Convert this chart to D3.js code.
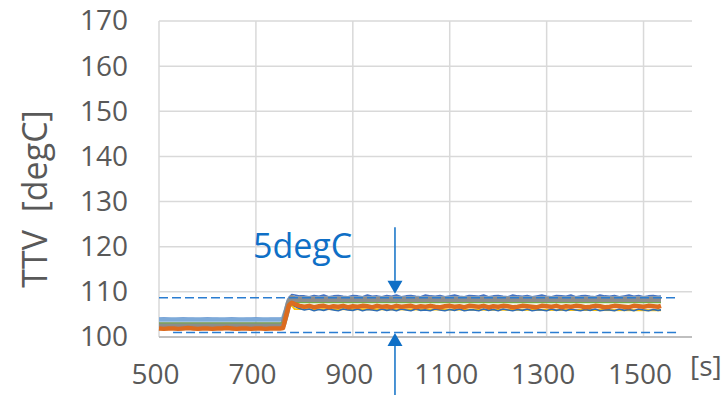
<!DOCTYPE html>
<html>
<head>
<meta charset="utf-8">
<script src="https://cdn.jsdelivr.net/npm/d3@7"></script>
<style>
  body { margin: 0; background: #fff; }
  svg { display: block; font-family: "Open Sans", "Noto Sans", sans-serif; }
</style>
</head>
<body>
<svg id="chart"></svg>
<script>
// time axis shared by the noisy traces [s]
const seconds = [
  500, 510, 520, 530, 540, 550, 560, 570, 580, 590, 600, 610, 620, 630, 640, 650, 660, 670, 680, 690, 700, 710, 720, 730, 740, 750,
  756, 762, 768, 774,
  780, 790, 800, 810, 820, 830, 840, 850, 860, 870, 880, 890, 900, 910, 920, 930, 940, 950, 960, 970,
  980, 990, 1000, 1010, 1020, 1030, 1040, 1050, 1060, 1070, 1080, 1090, 1100, 1110, 1120, 1130, 1140, 1150, 1160, 1170,
  1180, 1190, 1200, 1210, 1220, 1230, 1240, 1250, 1260, 1270, 1280, 1290, 1300, 1310, 1320, 1330, 1340, 1350, 1360, 1370,
  1380, 1390, 1400, 1410, 1420, 1430, 1440, 1450, 1460, 1470, 1480, 1490, 1500, 1510, 1520, 1530, 1536
];

const blueHigh = [
  104.1, 104.2, 104.1, 104.0, 104.1, 104.2, 104.1, 104.1, 104.0, 104.1, 104.2, 104.1, 104.1, 104.0, 104.1, 104.2, 104.1, 104.0, 104.1, 104.1, 104.2, 104.1, 104.0, 104.1, 104.1, 104.1,
  104.2, 106.5, 108.8, 109.4,
  109.3, 109.1,
  109.1, 108.9, 109.2, 109.0, 109.3, 108.9, 109.1, 109.2, 109.0, 108.9,
  109.2, 109.1, 108.9, 109.3, 109.0, 109.1, 108.9, 109.2, 109.0, 109.3,
  108.9, 109.1, 109.2, 109.0, 108.9, 109.3, 109.1, 109.0, 109.2, 108.9,
  109.1, 109.3, 109.0, 108.9, 109.2, 109.1, 109.0, 109.3, 108.9, 109.1,
  109.2, 109.0, 108.9, 109.3, 109.1, 109.0, 109.2, 108.9, 109.1, 109.3,
  109.0, 108.9, 109.2, 109.1, 109.0, 109.3, 108.9, 109.1, 109.2, 109.0,
  108.9, 109.3, 109.1, 109.0, 109.2, 108.9, 109.1, 109.3, 109.0, 109.2,
  108.9, 109.1, 109.2, 109.0, 109.1
];

const blueLow = [
  102.3, 102.4, 102.3, 102.3, 102.4, 102.3, 102.2, 102.3, 102.4, 102.3, 102.3, 102.2, 102.3, 102.4, 102.3, 102.3, 102.4, 102.3, 102.2, 102.3, 102.3, 102.4, 102.3, 102.3, 102.2, 102.3,
  102.4, 104.8, 107.2, 107.4,
  106.8, 106.3,
  106.0, 106.2, 105.8, 106.1, 105.9, 106.2, 106.0, 105.8, 106.2, 106.0,
  105.9, 106.2, 105.8, 106.1, 106.0, 105.8, 106.2, 105.9, 106.1, 105.8,
  106.2, 106.0, 105.8, 106.2, 105.9, 106.0, 105.8, 106.2, 106.0, 105.8,
  106.1, 105.9, 106.2, 105.8, 106.0, 106.0, 105.8, 106.2, 105.9, 106.1,
  105.8, 106.2, 106.0, 105.8, 106.1, 105.9, 106.2, 105.8, 106.0, 106.0,
  105.8, 106.2, 105.9, 106.1, 105.8, 106.2, 106.0, 105.8, 106.1, 105.9,
  106.2, 105.8, 106.0, 106.0, 105.8, 106.2, 105.9, 106.1, 105.8, 106.2,
  106.0, 105.8, 106.1, 105.9, 106.0
];

const orange = [
  101.9, 101.8, 101.9, 101.9, 101.8, 101.9, 102.0, 101.9, 101.8, 101.9, 101.9, 101.8, 101.9, 101.9, 102.0, 101.9, 101.8, 101.9, 101.9, 101.8, 101.9, 101.9, 101.8, 101.9, 101.9, 101.9,
  102.0, 104.5, 107.0, 107.6,
  107.3, 106.9,
  106.7, 106.9, 106.6, 106.8, 106.9, 106.6, 106.8, 106.7, 106.9, 106.6,
  106.8, 106.7, 106.9, 106.8, 106.6, 106.9, 106.7, 106.8, 106.6, 106.9,
  106.7, 106.8, 106.9, 106.6, 106.8, 106.7, 106.9, 106.7, 106.6, 106.8,
  106.9, 106.7, 106.8, 106.6, 106.9, 106.8, 106.7, 106.9, 106.6, 106.8,
  106.7, 106.9, 106.8, 106.6, 106.7, 106.9, 106.8, 106.7, 106.6, 106.9,
  106.8, 106.7, 106.9, 106.6, 106.8, 106.7, 106.9, 106.8, 106.6, 106.7,
  106.9, 106.8, 106.6, 106.7, 106.9, 106.8, 106.7, 106.6, 106.9, 106.8,
  106.7, 106.9, 106.8, 106.7, 106.9
];

// smoother traces only need the corner points
const stepSeconds = [500, 750, 756, 762, 768, 774, 780, 1536];
const lightBlue = [103.9, 103.9, 104.0, 106.0, 108.2, 108.8, 108.6, 108.6];
const gray      = [102.6, 102.6, 102.7, 105.0, 107.6, 108.6, 108.3, 108.3];
const green     = [103.1, 103.1, 103.2, 105.3, 107.5, 107.8, 107.6, 107.6];
const yellow    = [102.0, 102.0, 102.1, 104.4, 106.6, 107.0, 106.2, 105.9];

const xTicks = [500, 700, 900, 1100, 1300, 1500];
const yTicks = [100, 110, 120, 130, 140, 150, 160, 170];

// 5degC band markers
const bandLines = [
  { value: 108.7, from: 500, to: 1572 },
  { value: 101.0, from: 529, to: 1572 }
];
const arrowX = 987;
const arrows = [
  { from: 124.3, to: 109.6 },
  { from: 87.0, to: 100.9 }
];
const bandLabel = { text: '5degC', x: 694, y: 117.6 };

const width = 723, height = 395;
const margin = { top: 21, right: 31, bottom: 58, left: 159 };

const svg = d3.select('#chart').attr('width', width).attr('height', height);

const x = d3.scaleLinear().domain([500, 1600]).range([margin.left, width - margin.right]);
const y = d3.scaleLinear().domain([100, 170]).range([height - margin.bottom, margin.top]);

const textColor = '#595959';
const annColor = '#0F6FC6';

// grid
const gridG = svg.append('g');
gridG.selectAll('line.h')
  .data(yTicks.filter(d => d > 100))
  .enter()
  .append('line')
  .attr('x1', x(500)).attr('x2', x(1600))
  .attr('y1', d => y(d)).attr('y2', d => y(d))
  .attr('stroke', '#d9d9d9')
  .attr('stroke-width', 1.5);
gridG.selectAll('line.v')
  .data(xTicks)
  .enter()
  .append('line')
  .attr('x1', d => x(d)).attr('x2', d => x(d))
  .attr('y1', y(170)).attr('y2', y(100))
  .attr('stroke', '#d9d9d9')
  .attr('stroke-width', 1.5);
gridG.append('line')
  .attr('x1', x(500)).attr('x2', x(1600))
  .attr('y1', y(100)).attr('y2', y(100))
  .attr('stroke', '#bfbfbf')
  .attr('stroke-width', 2);

// axes labels
const yAxis = d3.axisLeft(y).tickValues(yTicks).tickSize(0).tickPadding(31);
svg.append('g')
  .attr('transform', `translate(${margin.left},0)`)
  .call(yAxis)
  .call(g => g.select('.domain').remove())
  .selectAll('text')
  .attr('fill', textColor)
  .attr('font-size', '28px')
  .attr('font-family', '"Open Sans", sans-serif');

const xAxis = d3.axisBottom(x).tickValues(xTicks).tickFormat(d3.format('d')).tickSize(0).tickPadding(27);
svg.append('g')
  .attr('transform', `translate(0,${y(100)})`)
  .call(xAxis)
  .call(g => g.select('.domain').remove())
  .selectAll('text')
  .attr('dx', -4)
  .attr('fill', textColor)
  .attr('font-size', '28px')
  .attr('font-family', '"Open Sans", sans-serif');

svg.append('text')
  .attr('x', 690)
  .attr('y', 376)
  .attr('fill', textColor)
  .attr('font-size', '28px')
  .text('[s]');

svg.append('text')
  .attr('transform', 'translate(47,199) rotate(-90)')
  .attr('text-anchor', 'middle')
  .attr('fill', textColor)
  .attr('font-size', '34px')
  .attr('xml:space', 'preserve')
  .text('TTV  [degC]');

// traces
const line = d3.line().x(d => x(d[0])).y(d => y(d[1]));
const traces = [
  { t: stepSeconds, v: yellow, color: '#FFC000', w: 2 },
  { t: seconds, v: blueHigh, color: '#4472C4', w: 1.6 },
  { t: stepSeconds, v: lightBlue, color: '#7EAAD9', w: 4.5 },
  { t: seconds, v: blueLow, color: '#2E6DB4', w: 1.6 },
  { t: stepSeconds, v: gray, color: '#8C8C8C', w: 6 },
  { t: stepSeconds, v: green, color: '#70AD47', w: 1.2 },
  { t: seconds, v: orange, color: '#DC6B1F', w: 4.5 }
];
const traceG = svg.append('g');
traceG.selectAll('path')
  .data(traces)
  .enter()
  .append('path')
  .attr('fill', 'none')
  .attr('stroke', d => d.color)
  .attr('stroke-width', d => d.w)
  .attr('stroke-linejoin', 'round')
  .attr('d', d => line(d.t.map((s, i) => [s, d.v[i]])));

// band annotation
const annG = svg.append('g');
annG.selectAll('line.band')
  .data(bandLines)
  .enter()
  .append('line')
  .attr('x1', d => x(d.from)).attr('x2', d => x(d.to))
  .attr('y1', d => y(d.value)).attr('y2', d => y(d.value))
  .attr('stroke', '#2A7DD1')
  .attr('stroke-width', 1.5)
  .attr('stroke-dasharray', '9,4');

arrows.forEach(a => {
  const dir = a.to < a.from ? 1 : -1; // 1 = pointing down on screen
  const tipY = y(a.to);
  const baseY = tipY - dir * 13;
  annG.append('line')
    .attr('x1', x(arrowX)).attr('x2', x(arrowX))
    .attr('y1', y(a.from)).attr('y2', baseY)
    .attr('stroke', annColor)
    .attr('stroke-width', 1.5);
  annG.append('path')
    .attr('d', `M${x(arrowX) - 7.5},${baseY}L${x(arrowX) + 7.5},${baseY}L${x(arrowX)},${tipY}Z`)
    .attr('fill', annColor);
});

annG.append('text')
  .attr('x', x(bandLabel.x))
  .attr('y', y(bandLabel.y))
  .attr('fill', annColor)
  .attr('font-size', '34px')
  .text(bandLabel.text);
</script>
</body>
</html>
